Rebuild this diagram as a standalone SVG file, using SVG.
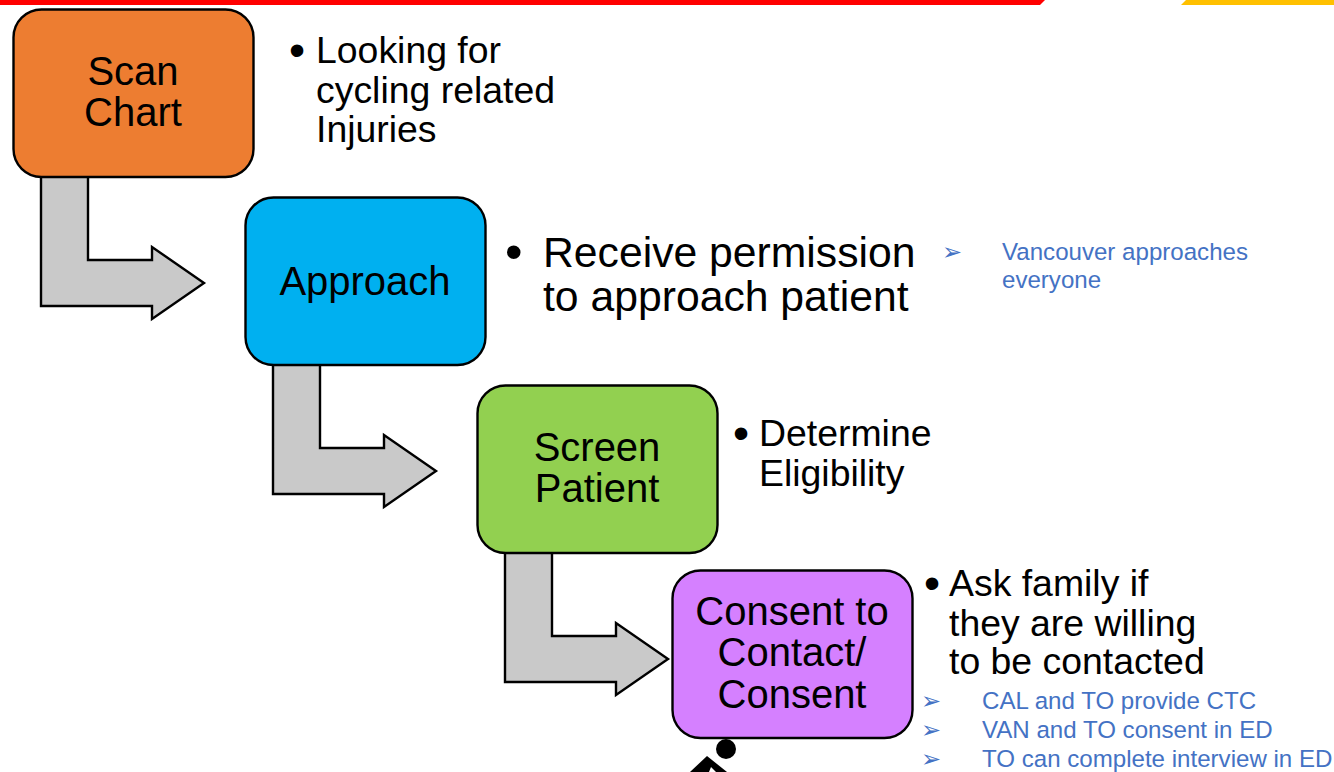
<svg xmlns="http://www.w3.org/2000/svg" width="1334" height="772" viewBox="0 0 1334 772">
<style>
text{font-family:"Liberation Sans",Arial,sans-serif;fill:#000}
.box{stroke:#000;stroke-width:2.4}
.arrow{fill:#c9c9c9;stroke:#000;stroke-width:2.4}
.nl{font-size:40px;text-anchor:middle}
.b1{font-size:37.400px}
.b2{font-size:42.700px}
.dot{font-size:46px}
.blue{font-size:24.100px;fill:#4472c4}
.mk{font-family:"DejaVu Sans",sans-serif;font-size:24px;fill:#4472c4}
</style>
<rect width="1334" height="772" fill="#fff"/>
<g id="banner">
<polygon points="0,0 1045,0 1040,5 0,5" fill="#ff0000"/>
<polygon points="1186,0 1334,0 1334,5 1181,5" fill="#ffc000"/>
</g>
<g id="connectors">
<polygon class="arrow" points="41,176 88,176 88,260 152,260 152,247 204,283 152,319 152,306 41,306"/>
<polygon class="arrow" points="273,364 320,364 320,448 384,448 384,435 436,471 384,507 384,494 273,494"/>
<polygon class="arrow" points="505,552 552,552 552,636 616,636 616,623 668,659 616,695 616,682 505,682"/>
</g>
<g id="scan-chart">
<rect class="box" x="13.500" y="9.500" width="240" height="167.500" rx="28" fill="#ed7d31"/>
<text class="nl" x="133" y="85">Scan</text>
<text class="nl" x="133" y="126">Chart</text>
</g>
<g id="scan-notes">
<text class="dot" x="289" y="66">•</text>
<text class="b1" x="316" y="63">Looking for</text>
<text class="b1" x="316" y="103">cycling related</text>
<text class="b1" x="316" y="141.500">Injuries</text>
</g>
<g id="approach">
<rect class="box" x="245.500" y="197.500" width="240" height="167.500" rx="28" fill="#00b0f0"/>
<text class="nl" x="365" y="295">Approach</text>
</g>
<g id="approach-notes">
<text x="505" y="269" style="font-size:50px">•</text>
<text class="b2" x="543" y="267">Receive permission</text>
<text class="b2" x="543" y="311">to approach patient</text>
<text class="mk" x="942" y="260">➢</text>
<text class="blue" x="1002" y="260">Vancouver approaches</text>
<text class="blue" x="1002" y="288">everyone</text>
</g>
<g id="screen-patient">
<rect class="box" x="477.500" y="385.500" width="240" height="167.500" rx="28" fill="#92d050"/>
<text class="nl" x="597" y="461">Screen</text>
<text class="nl" x="597" y="502">Patient</text>
</g>
<g id="screen-notes">
<text class="dot" x="733" y="449">•</text>
<text class="b1" x="759" y="446">Determine</text>
<text class="b1" x="759" y="486">Eligibility</text>
</g>
<g id="consent">
<rect class="box" x="672.500" y="570.500" width="240" height="167.500" rx="28" fill="#d580ff"/>
<text class="nl" x="792" y="625">Consent to</text>
<text class="nl" x="792" y="666">Contact/</text>
<text class="nl" x="792" y="708">Consent</text>
</g>
<g id="consent-notes">
<text class="dot" x="924" y="599">•</text>
<text class="b1" x="949" y="596">Ask family if</text>
<text class="b1" x="949" y="636">they are willing</text>
<text class="b1" x="949" y="674">to be contacted</text>
<text class="mk" x="921" y="709">➢</text>
<text class="blue" x="982" y="709">CAL and TO provide CTC</text>
<text class="mk" x="921" y="738">➢</text>
<text class="blue" x="982" y="738">VAN and TO consent in ED</text>
<text class="mk" x="921" y="767">➢</text>
<text class="blue" x="982" y="767">TO can complete interview in ED</text>
</g>
<g id="cyclist">
<circle cx="726" cy="749" r="10"/>
<polygon points="707,756 727,772 690,772"/>
<polygon points="709,772 711,767 716,772" fill="#fff"/>
</g>
</svg>
